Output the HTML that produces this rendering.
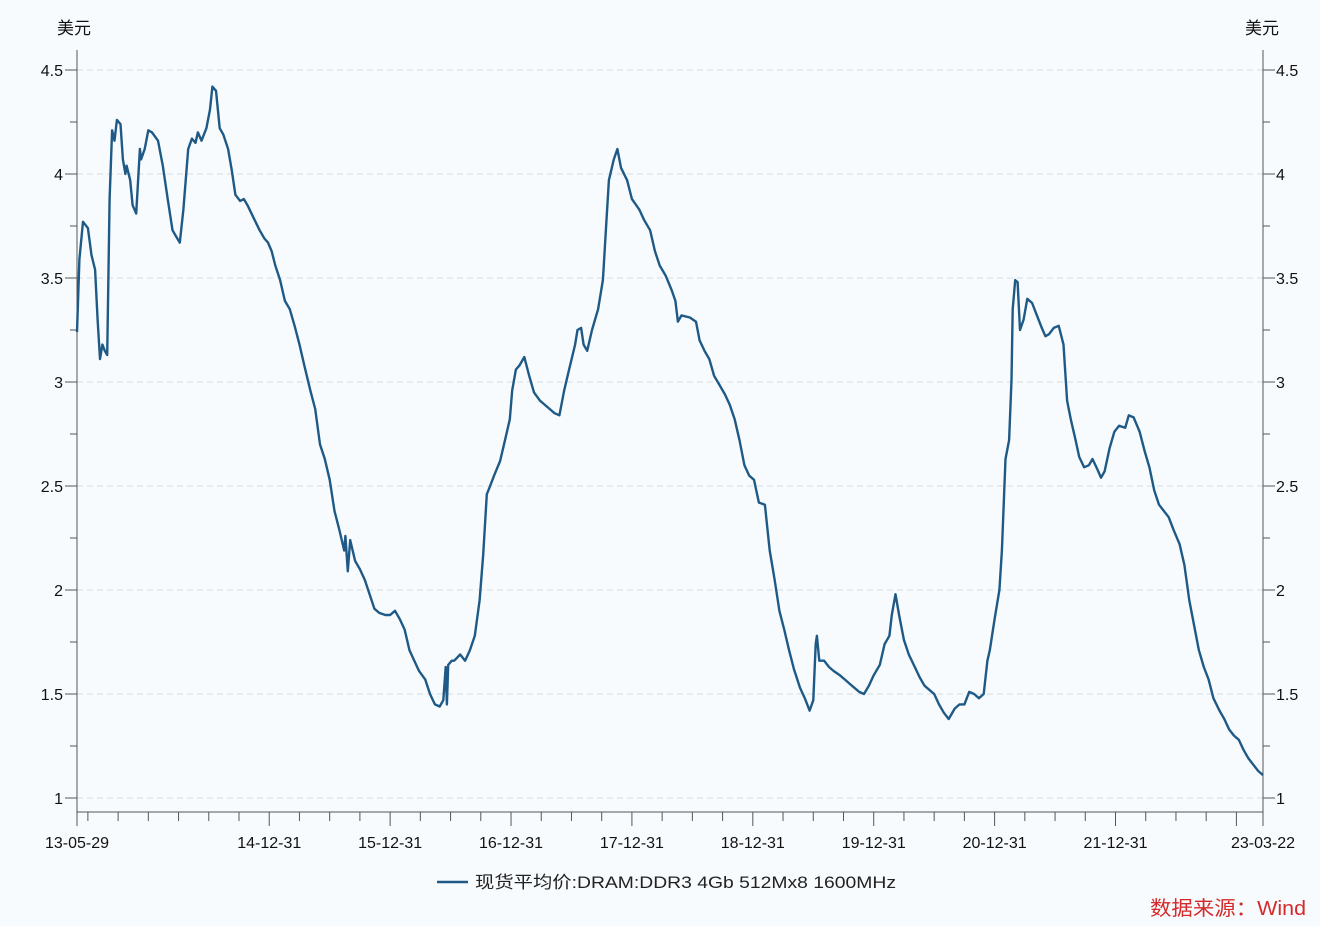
<!DOCTYPE html>
<html><head><meta charset="utf-8"><style>
html,body{margin:0;padding:0;background:#f8fbfe;}
svg{display:block;font-family:"Liberation Sans","Noto Sans CJK SC",sans-serif;}
</style></head><body>
<svg id="chart" width="1320" height="926" viewBox="0 0 1320 926">
<rect x="0" y="0" width="1320" height="926" fill="#f8fbfe"/>
<g id="grid"></g><g id="axes"></g><g id="series"></g>
<text x="57" y="34" font-size="17" fill="#111">美元</text>
<text x="1245" y="34" font-size="17" fill="#111">美元</text>
<g>
<line x1="437" y1="882" x2="468" y2="882" stroke="#1f5a86" stroke-width="2.5"/>
<text x="475" y="888" font-size="17" fill="#222" textLength="421" lengthAdjust="spacingAndGlyphs">现货平均价:DRAM:DDR3 4Gb 512Mx8 1600MHz</text>
</g>
<text x="1150" y="915" font-size="20" fill="#d42a2a" textLength="156" lengthAdjust="spacingAndGlyphs">数据来源：Wind</text>
</svg>
<script>
const dates=[2013.41,2013.43,2013.46,2013.50,2013.53,2013.56,2013.58,2013.60,2013.62,2013.64,2013.66,2013.68,2013.70,2013.72,2013.74,2013.77,2013.79,2013.81,2013.82,2013.85,2013.87,2013.90,2013.93,2013.94,2013.97,2014.00,2014.03,2014.08,2014.12,2014.16,2014.20,2014.24,2014.26,2014.29,2014.33,2014.36,2014.39,2014.41,2014.44,2014.48,2014.51,2014.53,2014.56,2014.59,2014.62,2014.66,2014.69,2014.72,2014.76,2014.79,2014.82,2014.87,2014.92,2014.96,2014.99,2015.02,2015.05,2015.09,2015.13,2015.17,2015.21,2015.25,2015.29,2015.34,2015.38,2015.42,2015.46,2015.50,2015.54,2015.58,2015.62,2015.63,2015.65,2015.67,2015.71,2015.75,2015.79,2015.83,2015.87,2015.91,2015.96,2016.00,2016.04,2016.08,2016.12,2016.16,2016.20,2016.24,2016.29,2016.33,2016.37,2016.41,2016.44,2016.46,2016.47,2016.48,2016.51,2016.53,2016.58,2016.62,2016.66,2016.70,2016.74,2016.77,2016.80,2016.82,2016.86,2016.91,2016.95,2016.99,2017.01,2017.04,2017.07,2017.11,2017.15,2017.19,2017.24,2017.28,2017.32,2017.36,2017.40,2017.44,2017.48,2017.53,2017.55,2017.58,2017.60,2017.63,2017.67,2017.72,2017.76,2017.79,2017.81,2017.85,2017.88,2017.91,2017.96,2018.00,2018.06,2018.10,2018.15,2018.19,2018.23,2018.28,2018.33,2018.36,2018.38,2018.41,2018.48,2018.53,2018.56,2018.60,2018.64,2018.68,2018.72,2018.77,2018.81,2018.85,2018.89,2018.93,2018.97,2019.01,2019.05,2019.10,2019.14,2019.18,2019.22,2019.26,2019.30,2019.34,2019.39,2019.43,2019.47,2019.50,2019.52,2019.53,2019.55,2019.59,2019.63,2019.67,2019.72,2019.76,2019.80,2019.84,2019.88,2019.92,2019.96,2020.00,2020.05,2020.09,2020.13,2020.15,2020.18,2020.21,2020.25,2020.29,2020.34,2020.38,2020.42,2020.46,2020.50,2020.54,2020.58,2020.62,2020.67,2020.71,2020.75,2020.79,2020.83,2020.87,2020.91,2020.94,2020.96,2021.00,2021.04,2021.06,2021.09,2021.12,2021.14,2021.15,2021.17,2021.19,2021.21,2021.24,2021.27,2021.31,2021.35,2021.39,2021.42,2021.45,2021.49,2021.53,2021.57,2021.60,2021.63,2021.67,2021.70,2021.74,2021.78,2021.81,2021.85,2021.88,2021.91,2021.95,2021.99,2022.03,2022.08,2022.11,2022.15,2022.20,2022.24,2022.28,2022.32,2022.36,2022.40,2022.44,2022.48,2022.53,2022.57,2022.61,2022.65,2022.69,2022.73,2022.77,2022.81,2022.86,2022.90,2022.94,2022.98,2023.02,2023.06,2023.10,2023.14,2023.18,2023.22];
const prices=[3.24,3.59,3.77,3.74,3.61,3.54,3.30,3.11,3.18,3.15,3.13,3.88,4.21,4.16,4.26,4.24,4.07,4.00,4.04,3.97,3.85,3.81,4.12,4.07,4.12,4.21,4.20,4.16,4.04,3.88,3.73,3.69,3.67,3.83,4.12,4.17,4.15,4.20,4.16,4.22,4.31,4.42,4.40,4.22,4.19,4.12,4.02,3.90,3.87,3.88,3.85,3.79,3.73,3.69,3.67,3.63,3.56,3.49,3.39,3.35,3.27,3.18,3.08,2.96,2.87,2.70,2.63,2.53,2.38,2.29,2.19,2.26,2.09,2.24,2.14,2.10,2.05,1.98,1.91,1.89,1.88,1.88,1.90,1.86,1.81,1.71,1.66,1.61,1.57,1.50,1.45,1.44,1.47,1.63,1.45,1.64,1.66,1.66,1.69,1.66,1.71,1.78,1.95,2.17,2.46,2.49,2.55,2.62,2.72,2.82,2.96,3.06,3.08,3.12,3.03,2.95,2.91,2.89,2.87,2.85,2.84,2.96,3.06,3.18,3.25,3.26,3.18,3.15,3.25,3.35,3.49,3.78,3.97,4.07,4.12,4.03,3.97,3.88,3.83,3.78,3.73,3.63,3.56,3.51,3.44,3.39,3.29,3.32,3.31,3.29,3.20,3.15,3.11,3.03,2.99,2.94,2.89,2.82,2.72,2.60,2.55,2.53,2.42,2.41,2.19,2.05,1.90,1.81,1.71,1.62,1.53,1.48,1.42,1.47,1.74,1.78,1.66,1.66,1.63,1.61,1.59,1.57,1.55,1.53,1.51,1.50,1.54,1.59,1.64,1.74,1.78,1.88,1.98,1.88,1.76,1.69,1.63,1.58,1.54,1.52,1.50,1.45,1.41,1.38,1.43,1.45,1.45,1.51,1.50,1.48,1.50,1.66,1.71,1.86,2.00,2.19,2.63,2.72,3.01,3.35,3.49,3.48,3.25,3.30,3.40,3.38,3.32,3.26,3.22,3.23,3.26,3.27,3.18,2.91,2.82,2.72,2.64,2.59,2.60,2.63,2.58,2.54,2.57,2.68,2.76,2.79,2.78,2.84,2.83,2.76,2.67,2.59,2.48,2.41,2.38,2.35,2.29,2.22,2.12,1.95,1.83,1.71,1.63,1.57,1.48,1.42,1.38,1.33,1.30,1.28,1.23,1.19,1.16,1.13,1.11];
const yTicks=[1,1.5,2,2.5,3,3.5,4,4.5];
const yTickLabels=["1","1.5","2","2.5","3","3.5","4","4.5"];
const xLabelDates=[2013.41,2015.0,2016.0,2017.0,2018.0,2019.0,2020.0,2021.0,2022.0,2023.22];
const xLabels=["13-05-29","14-12-31","15-12-31","16-12-31","17-12-31","18-12-31","19-12-31","20-12-31","21-12-31","23-03-22"];

const NS="http://www.w3.org/2000/svg";
const L=77,R=1263,T0=2013.41,T1=2023.22,BOT=812;
const xs=t=>L+(t-T0)/(T1-T0)*(R-L);
const ys=v=>70+(4.5-v)/3.5*728;
function mk(tag,attrs,parent){const e=document.createElementNS(NS,tag);for(const k in attrs)e.setAttribute(k,attrs[k]);parent.appendChild(e);return e;}
const grid=document.getElementById('grid'),axes=document.getElementById('axes'),series=document.getElementById('series');

yTicks.forEach((v,i)=>{
  const y=ys(v);
  const g=mk('line',{x1:L,x2:R,y1:y,y2:y,stroke:'#d6dde4','stroke-width':1,'stroke-dasharray':'6 4'},grid);
  
  
  const t1=mk('text',{x:63,y:y+6,'font-size':16,'text-anchor':'end',fill:'#111'},axes);
  t1.textContent=yTickLabels[i];
  
  
  const t2=mk('text',{x:1276,y:y+6,'font-size':16,'text-anchor':'start',fill:'#111'},axes);
  t2.textContent=yTickLabels[i];
  
  
  mk('line',{x1:L-12,x2:L,y1:y,y2:y,stroke:'#555','stroke-width':1},axes);
  mk('line',{x1:R,x2:R+12,y1:y,y2:y,stroke:'#555','stroke-width':1},axes);
});
for(let v=1.25;v<4.6;v+=0.5){const y=ys(v);
  mk('line',{x1:L-7,x2:L,y1:y,y2:y,stroke:'#555','stroke-width':1},axes);
  mk('line',{x1:R,x2:R+7,y1:y,y2:y,stroke:'#555','stroke-width':1},axes);}
const la=mk('line',{x1:L,x2:L,y1:50,y2:BOT,stroke:'#555','stroke-width':1},axes);


const ra=mk('line',{x1:R,x2:R,y1:50,y2:BOT,stroke:'#555','stroke-width':1},axes);


const xa=mk('line',{x1:L,x2:R,y1:BOT,y2:BOT,stroke:'#555','stroke-width':1},axes);


for(let q=2013.5;q<T1;q+=0.25){const x=xs(q);const major=Math.abs(q-Math.round(q))<0.01&&q>2014.5;
  mk('line',{x1:x,x2:x,y1:BOT,y2:BOT+(major?14:9),stroke:'#555','stroke-width':1},axes);}
mk('line',{x1:L,x2:L,y1:BOT,y2:BOT+14,stroke:'#555','stroke-width':1},axes);
mk('line',{x1:R,x2:R,y1:BOT,y2:BOT+14,stroke:'#555','stroke-width':1},axes);
xLabelDates.forEach((d,i)=>{
  const t=mk('text',{x:xs(d),y:848,'font-size':16,'text-anchor':'middle',fill:'#111'},axes);
  t.textContent=xLabels[i];
  
  
});
const pts=dates.map((d,i)=>xs(d).toFixed(1)+','+ys(prices[i]).toFixed(1)).join(' ');
const pl=mk('polyline',{points:pts,fill:'none',stroke:'#1f5a86','stroke-width':2.4,'stroke-linejoin':'round'},series);


</script>
</body></html>
